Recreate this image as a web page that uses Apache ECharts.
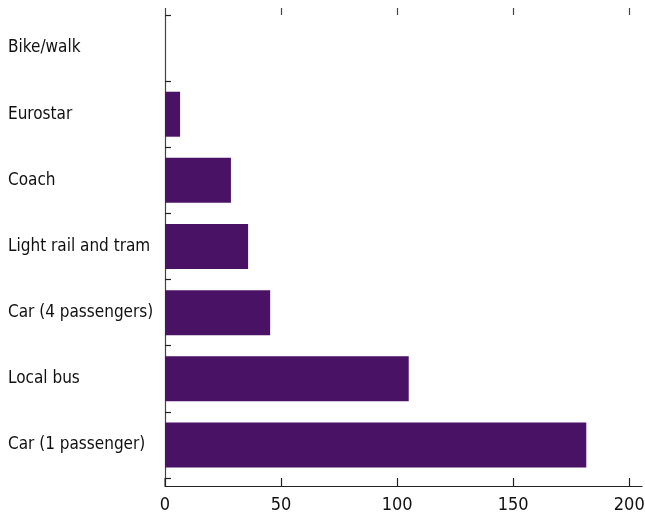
<!DOCTYPE html>
<html>
<head>
<meta charset="utf-8">
<script src="https://cdn.jsdelivr.net/npm/echarts@6/dist/echarts.min.js"></script>
<style>
html,body{margin:0;padding:0;background:#fff;}
#chart{width:645px;height:516px;}
</style>
</head>
<body>
<div id="chart"></div>
<script>
var categories = ['Car (1 passenger)', 'Local bus', 'Car (4 passengers)', 'Light rail and tram', 'Coach', 'Eurostar', 'Bike/walk'];
var values = [181.5, 105.0, 45.3, 35.8, 28.4, 6.5, 0];
var xTicks = [0, 50, 100, 150, 200];

var FONT = '"DejaVu Sans Condensed", sans-serif';
var chart = echarts.init(document.getElementById('chart'), null, {renderer: 'canvas'});
chart.setOption({
  animation: false,
  backgroundColor: '#fff',
  grid: {left: 165, right: 3, top: 15, bottom: 38, containLabel: false, outerBoundsMode: 'none'},
  xAxis: [{
    type: 'value', position: 'bottom', min: 0, max: 205.5, offset: 8,
    splitLine: {show: false},
    axisLine: {show: true, lineStyle: {color: '#222', width: 1.2}},
    axisTick: {show: true, inside: true, length: 8, customValues: xTicks, lineStyle: {color: '#222', width: 1.2}},
    axisLabel: {customValues: xTicks, color: '#111', fontFamily: FONT, fontSize: 18, margin: 10, hideOverlap: false}
  }, {
    type: 'value', position: 'top', min: 0, max: 205.5,
    splitLine: {show: false},
    axisLine: {show: false},
    axisTick: {show: true, inside: false, length: 7, customValues: xTicks, lineStyle: {color: '#444', width: 1.2}},
    axisLabel: {show: false}
  }],
  yAxis: {
    type: 'category', data: categories,
    axisLine: {show: true, lineStyle: {color: '#444', width: 1.2}},
    axisTick: {show: true, inside: true, length: 6, lineStyle: {color: '#222', width: 1.2}},
    axisLabel: {align: 'left', margin: 157, color: '#111', fontFamily: FONT, fontSize: 17, overflow: 'none', width: 200}
  },
  graphic: [{
    type: 'line', shape: {x1: 165, y1: 478, x2: 165, y2: 486},
    style: {stroke: '#444', lineWidth: 1.2}
  }],
  series: [{
    type: 'bar', data: values, xAxisIndex: 0,
    barCategoryGap: '32%',
    itemStyle: {color: '#4a1264'}
  }]
});
</script>
</body>
</html>
